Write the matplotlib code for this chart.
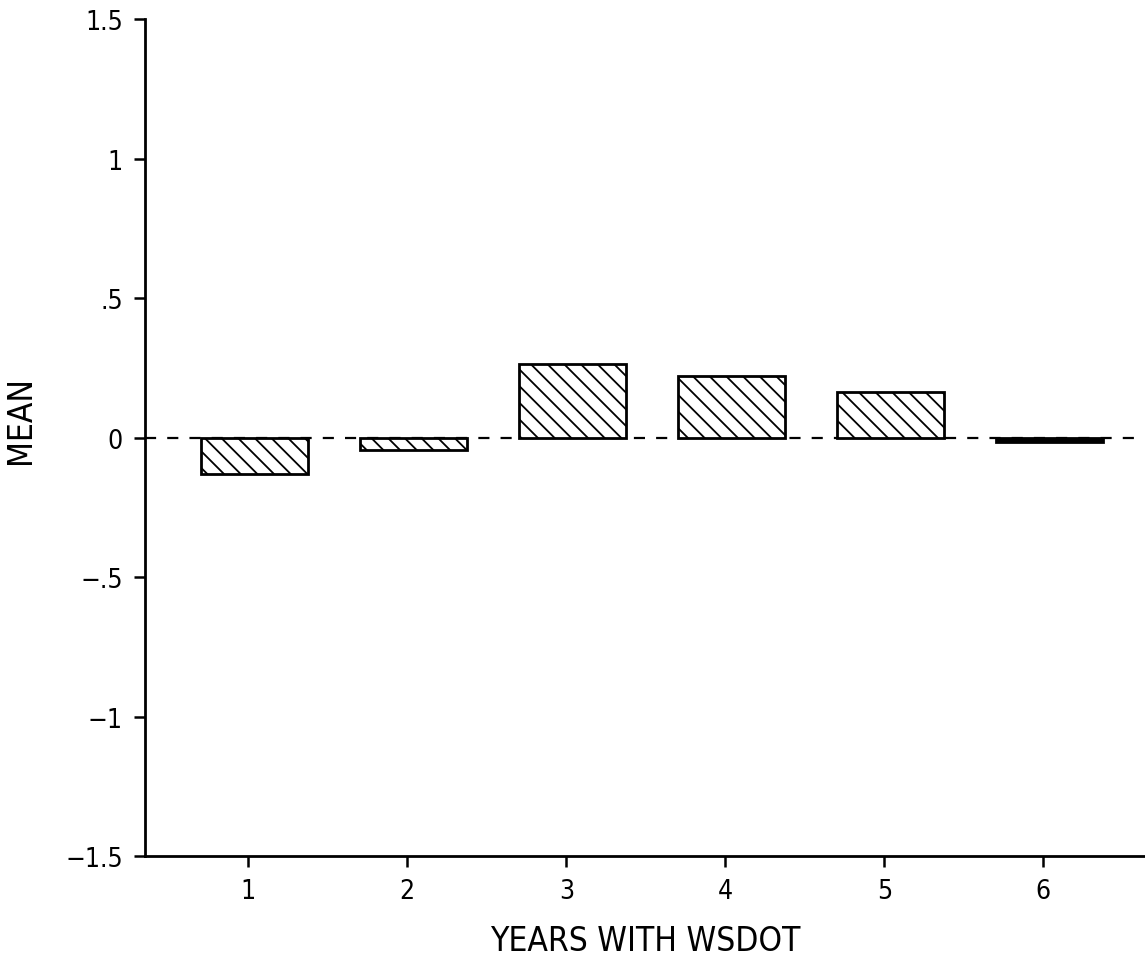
import matplotlib
matplotlib.use("Agg")
import matplotlib.pyplot as plt

years = [1, 2, 3, 4, 5, 6]
means = [-0.13, -0.045, 0.265, 0.22, 0.165, -0.015]
ytick_vals = [-1.5, -1.0, -0.5, 0.0, 0.5, 1.0, 1.5]
ytick_labels = ["\u22121.5", "\u22121", "\u2212.5", "0", ".5", "1", "1.5"]

plt.rcParams["font.family"] = ["DejaVu Sans"]
plt.rcParams["font.stretch"] = "condensed"
plt.rcParams["hatch.linewidth"] = 1.3

fig = plt.figure(figsize=(11.45, 9.7), dpi=100)
ax = fig.add_axes([0.1266, 0.1165, 0.8734, 0.8625])

ax.axhline(0, color="black", lw=1.6, ls=(0, (5, 5)), zorder=1)
x_off = 0.04
bars = ax.bar([y + x_off for y in years], means, width=0.675,
              facecolor="white", edgecolor="black", linewidth=2.0,
              hatch="\\\\", zorder=2)
bars[-1].set_facecolor("black")
bars[-1].set_hatch(None)

ax.set_xlim(0.35, 6.64)
ax.set_ylim(-1.5, 1.5)
ax.set_xticks(years)
ax.set_xticklabels([str(y) for y in years])
ax.set_yticks(ytick_vals)
ax.set_yticklabels(ytick_labels)

for s in ["top", "right"]:
    ax.spines[s].set_visible(False)
for s in ["left", "bottom"]:
    ax.spines[s].set_linewidth(2.0)

ax.tick_params(axis="both", direction="out", length=8, width=1.8,
               labelsize=19, pad=8)
ax.set_xlabel("YEARS WITH WSDOT", fontsize=24, labelpad=14)
ax.set_ylabel("MEAN", fontsize=24)
ax.yaxis.set_label_coords(-0.108, 0.522)

fig.savefig("out.png", dpi=100)
